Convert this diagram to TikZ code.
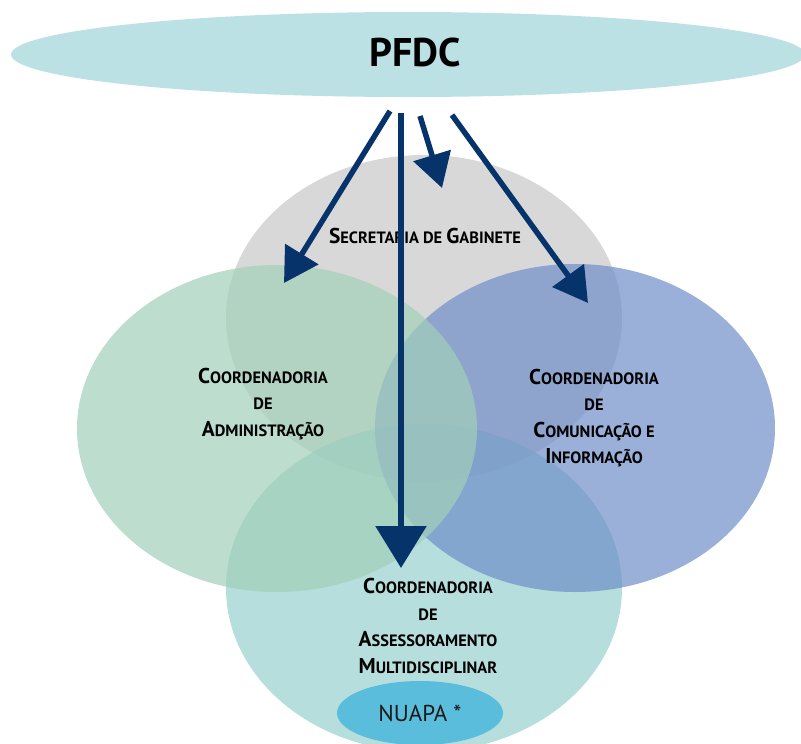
\documentclass[tikz,border=0pt]{standalone}
\usepackage{fontspec}
\setmainfont{PT Sans}
\usetikzlibrary{arrows.meta,shapes.geometric}
\definecolor{ctop}{HTML}{BCE1E4}
\definecolor{cgray}{HTML}{C9C7C7}
\definecolor{cteal}{HTML}{95D0CD}
\definecolor{cblue}{HTML}{6F8EC9}
\definecolor{cgreen}{HTML}{A1CFB9}
\definecolor{cnuapa}{HTML}{5ABDDB}
\definecolor{navy}{HTML}{06336A}
\newcommand\Lg{\fontsize{21.4}{26.5}\selectfont}
\newcommand\Sm{\fontsize{16.4}{26.5}\selectfont}
\begin{document}
\begin{tikzpicture}[x=1pt,y=-1pt,
  blob/.style={ellipse, draw=none, inner sep=0pt, fill opacity=0.7},
  lbl/.style={font=\bfseries\fontsize{16.4}{26.5}\selectfont, align=center, inner sep=0pt, text=black},
  arr/.style={draw=navy, line width=5.5pt, -{Triangle[length=34pt,width=38pt]}},
  bigarr/.style={draw=navy, line width=6pt, -{Triangle[length=42pt,width=50pt]}}]
\useasboundingbox (0,0) rectangle (801,744);
% circles
\node[blob, fill=cgray,  minimum width=396pt, minimum height=326pt] (sec) at (424,318) {};
\node[blob, fill=cteal,  minimum width=396pt, minimum height=328pt] (ass) at (424,588) {};
\node[blob, fill=cblue,  minimum width=400pt, minimum height=328pt] (com) at (575,428) {};
\node[blob, fill=cgreen, minimum width=400pt, minimum height=327pt] (adm) at (277,428.5) {};
\node[ellipse, fill=cnuapa, inner sep=0pt, minimum width=166pt, minimum height=64pt,
      font=\fontsize{23}{23}\selectfont, text=black!90] (nuapa) at (420,713) {\raisebox{-3pt}{NUAPA *}};
% top ellipse
\node[ellipse, fill=ctop, inner sep=0pt, minimum width=794pt, minimum height=85pt] (pfdc) at (408,54.5) {};
\node[font=\bfseries\fontsize{40}{40}\selectfont, inner sep=0pt] (pfdct) at (415,52) {PFDC};
% labels
\node[lbl] (sect) at (425,236) {{\Lg S}{\Sm ECRETARIA DE }{\Lg G}{\Sm ABINETE}};
\node[lbl] (admt) at (263,404) {\Lg C\Sm OORDENADORIA\\\Sm DE\\\Lg A\Sm DMINISTRAÇÃO};
\node[lbl] (comt) at (594,418) {\Lg C\Sm OORDENADORIA\\\Sm DE\\\Lg C\Sm OMUNICAÇÃO E\\\Lg I\Sm NFORMAÇÃO};
\node[lbl] (asst) at (428,626) {\Lg C\Sm OORDENADORIA\\\Sm DE\\\Lg A\Sm SSESSORAMENTO\\\Lg M\Sm ULTIDISCIPLINAR};
% arrows
\coordinate (s1) at (390,111); \coordinate (t1) at (284,283);
\coordinate (s2) at (401,113); \coordinate (t2) at (401,568);
\coordinate (s3) at (420,116); \coordinate (t3) at (442,188);
\coordinate (s4) at (452,115); \coordinate (t4) at (588,303);
\draw[arr] (s1) -- (t1);
\draw[bigarr] (s2) -- (t2);
\draw[arr] (s3) -- (t3);
\draw[arr] (s4) -- (t4);
\end{tikzpicture}
\end{document}
